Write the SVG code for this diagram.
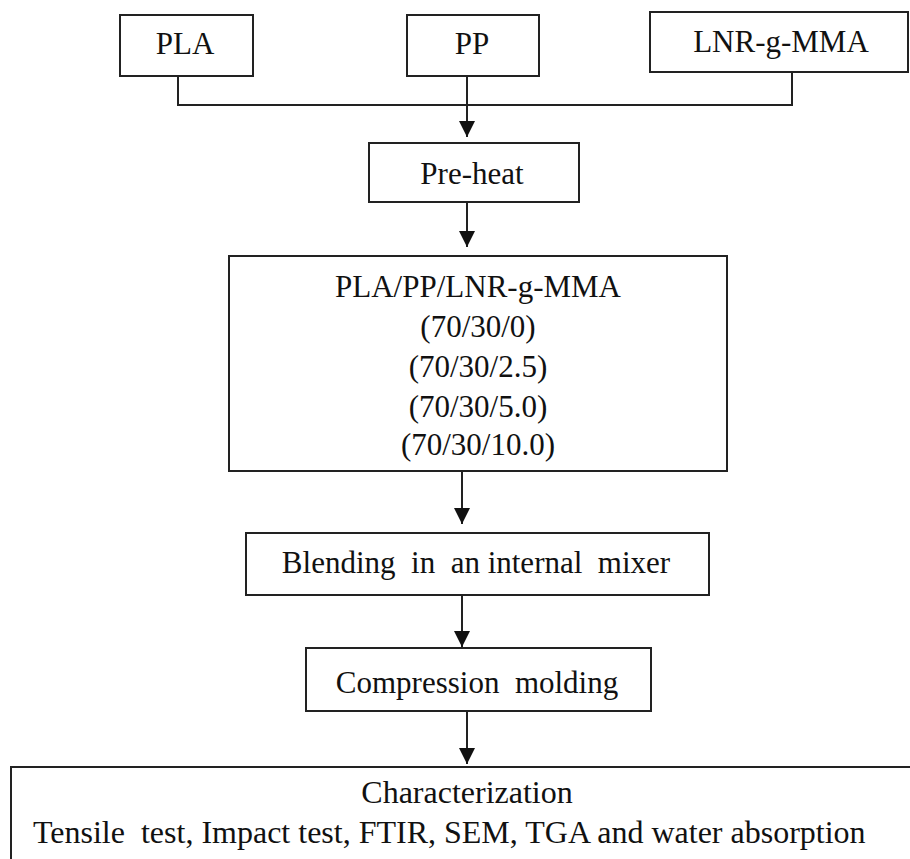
<svg xmlns="http://www.w3.org/2000/svg" width="910" height="859" viewBox="0 0 910 859">
<style>
.box{fill:#fff;stroke:#222;stroke-width:2}
.t{font-family:"Liberation Serif","Times New Roman",serif;font-size:31px;fill:#111;text-anchor:middle}
.c{fill:none;stroke:#222;stroke-width:2}
</style>
<defs>
<marker id="ah" markerUnits="userSpaceOnUse" viewBox="0 0 16 16" refX="16" refY="8" markerWidth="16" markerHeight="16" orient="auto">
<path d="M0,0 L16,8 L0,16 z" fill="#111"/>
</marker>
</defs>
<rect width="910" height="859" fill="#fff"/>
<g id="connectors">
<path class="c" d="M178,76 V105 H792 V72"/>
<path class="c" d="M467,76 V137" marker-end="url(#ah)"/>
<path class="c" d="M467,202 V247" marker-end="url(#ah)"/>
<path class="c" d="M462,471 V524" marker-end="url(#ah)"/>
<path class="c" d="M462,595 V647" marker-end="url(#ah)"/>
<path class="c" d="M467,711 V764" marker-end="url(#ah)"/>
</g>
<g id="pla"><rect class="box" x="120" y="15" width="133" height="61"/><text class="t" x="185" y="54">PLA</text></g>
<g id="pp"><rect class="box" x="407" y="15" width="132" height="61"/><text class="t" x="472" y="54">PP</text></g>
<g id="lnr"><rect class="box" x="650" y="12" width="258" height="60"/><text class="t" x="781" y="52">LNR-g-MMA</text></g>
<g id="preheat"><rect class="box" x="369" y="143" width="210" height="59"/><text class="t" x="472" y="184">Pre-heat</text></g>
<g id="blend-ratios"><rect class="box" x="229" y="256" width="498" height="215"/>
<text class="t" x="478" y="297">PLA/PP/LNR-g-MMA</text>
<text class="t" x="478" y="337">(70/30/0)</text>
<text class="t" x="478" y="377">(70/30/2.5)</text>
<text class="t" x="478" y="417">(70/30/5.0)</text>
<text class="t" x="478" y="455">(70/30/10.0)</text>
</g>
<g id="blending"><rect class="box" x="246" y="533" width="463" height="62"/><text class="t" x="476" y="573" xml:space="preserve">Blending  in  an internal  mixer</text></g>
<g id="compression"><rect class="box" x="306" y="648" width="345" height="63"/><text class="t" x="477" y="693" xml:space="preserve">Compression  molding</text></g>
<g id="characterization"><rect class="box" x="11" y="767" width="930" height="120"/>
<text class="t" x="467" y="803" style="font-size:32px">Characterization</text>
<text class="t" x="33" y="843" style="font-size:32px;text-anchor:start" xml:space="preserve">Tensile  test, Impact test, FTIR, SEM, TGA and water absorption</text>
</g>
</svg>
